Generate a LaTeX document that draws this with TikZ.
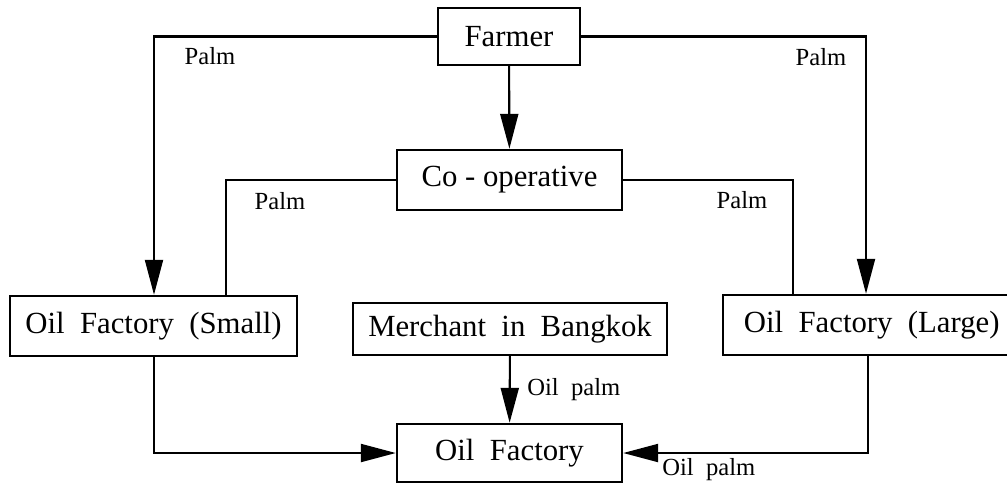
\documentclass[tikz,border=0pt]{standalone}
\usepackage{fontspec}
\setmainfont{Liberation Serif}
\usetikzlibrary{arrows.meta}

\begin{document}
\begin{tikzpicture}[x=.02cm, y=-.02cm,
    box/.style={draw, line width=1.4pt, inner sep=0pt, font=\fontsize{17.5}{20}\selectfont},
    lab/.style={inner sep=0pt, font=\fontsize{14}{16}\selectfont},
    flow/.style={line width=1.2pt, -{Triangle[length=.7cm,width=.36cm]}},
    link/.style={line width=1.2pt}]
    \useasboundingbox (0,0) rectangle (1007,488);

    \node[box, minimum width=2.84cm, minimum height=1.14cm] (farmer) at (509,36.5) {Farmer};
    \node[box, minimum width=4.5cm, minimum height=1.2cm] (coop) at (509.5,180) {Co - operative};
    \node[box, minimum width=5.74cm, minimum height=1.2cm] (small) at (153.5,326) {Oil\ \ Factory\ \ (Small)};
    \node[box, minimum width=6.28cm, minimum height=1.04cm] (merchant) at (510,329) {Merchant\ \ in\ \ Bangkok};
    \node[box, minimum width=6.1cm, minimum height=1.2cm] (large) at (875.5,325) {\hspace*{-.15cm}Oil\ \ Factory\ \ (Large)};
    \node[box, minimum width=4.5cm, minimum height=1.16cm] (oil) at (509.5,453) {Oil\ \ Factory};

    \draw[flow] (farmer.west) -| (154,0 |- small.north);
    \draw[flow] (farmer.east) -| (866,0 |- large.north);
    \draw[flow] (farmer) -- (coop);
    \draw[link] (coop.west) -| (226,0 |- small.north);
    \draw[link] (coop.east) -| (793,0 |- large.north);
    \draw[flow] (merchant) -- (oil);
    \draw[flow] (154,0 |- small.south) |- (oil.west);
    \draw[flow] (868,0 |- large.south) |- (oil.east);

    \node[lab] (palmfl) at (210,56) {Palm};
    \node[lab] (palmfr) at (821,57) {Palm};
    \node[lab] (palmcl) at (280,201) {Palm};
    \node[lab] (palmcr) at (742,200) {Palm};
    \node[lab, anchor=west] (oilpm) at (527,390) {Oil\ \ palm};
    \node[lab, anchor=west] (oilpl) at (662,470) {Oil\ \ palm};
\end{tikzpicture}
\end{document}
